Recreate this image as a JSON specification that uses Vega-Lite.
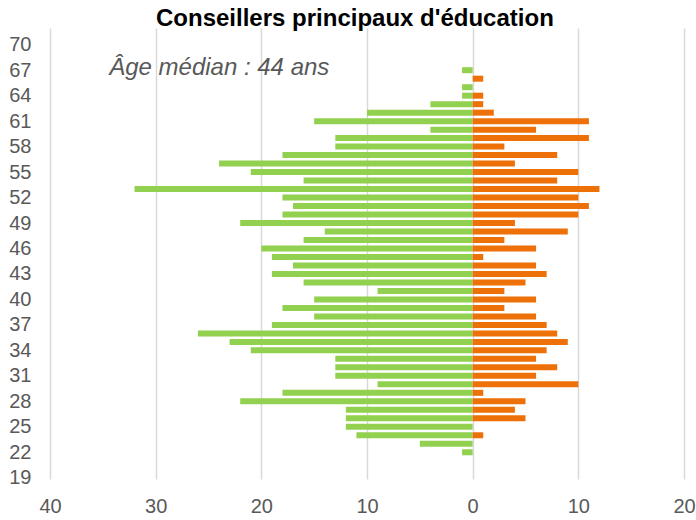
{
  "$schema": "https://vega.github.io/schema/vega-lite/v6.json",
  "autosize": "none",
  "width": 634,
  "height": 451,
  "padding": {"left": 50, "top": 28, "right": 12, "bottom": 41},
  "background": "white",
  "config": {
    "view": {"stroke": null},
    "font": "Liberation Sans"
  },
  "title": {
    "text": "Conseillers principaux d'éducation",
    "font": "Liberation Sans",
    "fontSize": 24,
    "fontWeight": "bold",
    "color": "#000000",
    "anchor": "start",
    "frame": "group",
    "dx": 106,
    "offset": -3
  },
  "datasets": {
    "pyramide": [
      {"age": 67, "sexe": "Femmes", "valeur": -1},
      {"age": 65, "sexe": "Femmes", "valeur": -1},
      {"age": 64, "sexe": "Femmes", "valeur": -1},
      {"age": 63, "sexe": "Femmes", "valeur": -4},
      {"age": 62, "sexe": "Femmes", "valeur": -10},
      {"age": 61, "sexe": "Femmes", "valeur": -15},
      {"age": 60, "sexe": "Femmes", "valeur": -4},
      {"age": 59, "sexe": "Femmes", "valeur": -13},
      {"age": 58, "sexe": "Femmes", "valeur": -13},
      {"age": 57, "sexe": "Femmes", "valeur": -18},
      {"age": 56, "sexe": "Femmes", "valeur": -24},
      {"age": 55, "sexe": "Femmes", "valeur": -21},
      {"age": 54, "sexe": "Femmes", "valeur": -16},
      {"age": 53, "sexe": "Femmes", "valeur": -32},
      {"age": 52, "sexe": "Femmes", "valeur": -18},
      {"age": 51, "sexe": "Femmes", "valeur": -17},
      {"age": 50, "sexe": "Femmes", "valeur": -18},
      {"age": 49, "sexe": "Femmes", "valeur": -22},
      {"age": 48, "sexe": "Femmes", "valeur": -14},
      {"age": 47, "sexe": "Femmes", "valeur": -16},
      {"age": 46, "sexe": "Femmes", "valeur": -20},
      {"age": 45, "sexe": "Femmes", "valeur": -19},
      {"age": 44, "sexe": "Femmes", "valeur": -17},
      {"age": 43, "sexe": "Femmes", "valeur": -19},
      {"age": 42, "sexe": "Femmes", "valeur": -16},
      {"age": 41, "sexe": "Femmes", "valeur": -9},
      {"age": 40, "sexe": "Femmes", "valeur": -15},
      {"age": 39, "sexe": "Femmes", "valeur": -18},
      {"age": 38, "sexe": "Femmes", "valeur": -15},
      {"age": 37, "sexe": "Femmes", "valeur": -19},
      {"age": 36, "sexe": "Femmes", "valeur": -26},
      {"age": 35, "sexe": "Femmes", "valeur": -23},
      {"age": 34, "sexe": "Femmes", "valeur": -21},
      {"age": 33, "sexe": "Femmes", "valeur": -13},
      {"age": 32, "sexe": "Femmes", "valeur": -13},
      {"age": 31, "sexe": "Femmes", "valeur": -13},
      {"age": 30, "sexe": "Femmes", "valeur": -9},
      {"age": 29, "sexe": "Femmes", "valeur": -18},
      {"age": 28, "sexe": "Femmes", "valeur": -22},
      {"age": 27, "sexe": "Femmes", "valeur": -12},
      {"age": 26, "sexe": "Femmes", "valeur": -12},
      {"age": 25, "sexe": "Femmes", "valeur": -12},
      {"age": 24, "sexe": "Femmes", "valeur": -11},
      {"age": 23, "sexe": "Femmes", "valeur": -5},
      {"age": 22, "sexe": "Femmes", "valeur": -1},
      {"age": 66, "sexe": "Hommes", "valeur": 1},
      {"age": 64, "sexe": "Hommes", "valeur": 1},
      {"age": 63, "sexe": "Hommes", "valeur": 1},
      {"age": 62, "sexe": "Hommes", "valeur": 2},
      {"age": 61, "sexe": "Hommes", "valeur": 11},
      {"age": 60, "sexe": "Hommes", "valeur": 6},
      {"age": 59, "sexe": "Hommes", "valeur": 11},
      {"age": 58, "sexe": "Hommes", "valeur": 3},
      {"age": 57, "sexe": "Hommes", "valeur": 8},
      {"age": 56, "sexe": "Hommes", "valeur": 4},
      {"age": 55, "sexe": "Hommes", "valeur": 10},
      {"age": 54, "sexe": "Hommes", "valeur": 8},
      {"age": 53, "sexe": "Hommes", "valeur": 12},
      {"age": 52, "sexe": "Hommes", "valeur": 10},
      {"age": 51, "sexe": "Hommes", "valeur": 11},
      {"age": 50, "sexe": "Hommes", "valeur": 10},
      {"age": 49, "sexe": "Hommes", "valeur": 4},
      {"age": 48, "sexe": "Hommes", "valeur": 9},
      {"age": 47, "sexe": "Hommes", "valeur": 3},
      {"age": 46, "sexe": "Hommes", "valeur": 6},
      {"age": 45, "sexe": "Hommes", "valeur": 1},
      {"age": 44, "sexe": "Hommes", "valeur": 6},
      {"age": 43, "sexe": "Hommes", "valeur": 7},
      {"age": 42, "sexe": "Hommes", "valeur": 5},
      {"age": 41, "sexe": "Hommes", "valeur": 3},
      {"age": 40, "sexe": "Hommes", "valeur": 6},
      {"age": 39, "sexe": "Hommes", "valeur": 3},
      {"age": 38, "sexe": "Hommes", "valeur": 6},
      {"age": 37, "sexe": "Hommes", "valeur": 7},
      {"age": 36, "sexe": "Hommes", "valeur": 8},
      {"age": 35, "sexe": "Hommes", "valeur": 9},
      {"age": 34, "sexe": "Hommes", "valeur": 7},
      {"age": 33, "sexe": "Hommes", "valeur": 6},
      {"age": 32, "sexe": "Hommes", "valeur": 8},
      {"age": 31, "sexe": "Hommes", "valeur": 6},
      {"age": 30, "sexe": "Hommes", "valeur": 10},
      {"age": 29, "sexe": "Hommes", "valeur": 1},
      {"age": 28, "sexe": "Hommes", "valeur": 5},
      {"age": 27, "sexe": "Hommes", "valeur": 4},
      {"age": 26, "sexe": "Hommes", "valeur": 5},
      {"age": 24, "sexe": "Hommes", "valeur": 1}
    ],
    "annotation": [
      {"x": -34.4, "age": 67.25, "texte": "Âge médian : 44 ans"}
    ]
  },
  "layer": [
    {
      "data": {"name": "pyramide"},
      "mark": {"type": "bar", "orient": "horizontal", "size": 6},
      "encoding": {
        "x": {
          "field": "valeur",
          "type": "quantitative",
          "scale": {"domain": [-40, 20], "nice": false, "zero": false, "padding": 0},
          "axis": {
            "title": null,
            "values": [-40, -30, -20, -10, 0, 10, 20],
            "tickCount": 20,
            "labelExpr": "abs(datum.value)",
            "labelFont": "Liberation Sans",
            "labelFontSize": 20,
            "labelColor": "#595959",
            "labelPadding": 17,
            "labelFlush": false,
            "labelOverlap": false,
            "labelBound": false,
            "ticks": false,
            "domain": false,
            "grid": true,
            "gridColor": "#d9d9d9",
            "gridWidth": 1.5
          }
        },
        "x2": {"datum": 0},
        "y": {
          "field": "age",
          "type": "quantitative",
          "scale": {"domain": [18.85, 71.97], "nice": false, "zero": false, "padding": 0},
          "axis": {
            "title": null,
            "values": [19, 22, 25, 28, 31, 34, 37, 40, 43, 46, 49, 52, 55, 58, 61, 64, 67, 70],
            "tickCount": 40,
            "labelFont": "Liberation Sans",
            "labelFontSize": 20,
            "labelColor": "#595959",
            "labelPadding": 19,
            "labelFlush": false,
            "labelOverlap": false,
            "labelBound": false,
            "ticks": false,
            "domain": false,
            "grid": false
          }
        },
        "color": {
          "field": "sexe",
          "type": "nominal",
          "scale": {"domain": ["Femmes", "Hommes"], "range": ["#92d050", "#ee7008"]},
          "legend": null
        }
      }
    },
    {
      "data": {"name": "annotation"},
      "mark": {
        "type": "text",
        "align": "left",
        "baseline": "middle",
        "font": "Liberation Sans",
        "fontSize": 24,
        "fontStyle": "italic",
        "color": "#595959"
      },
      "encoding": {
        "x": {"field": "x", "type": "quantitative"},
        "y": {"field": "age", "type": "quantitative"},
        "text": {"field": "texte"}
      }
    }
  ]
}
